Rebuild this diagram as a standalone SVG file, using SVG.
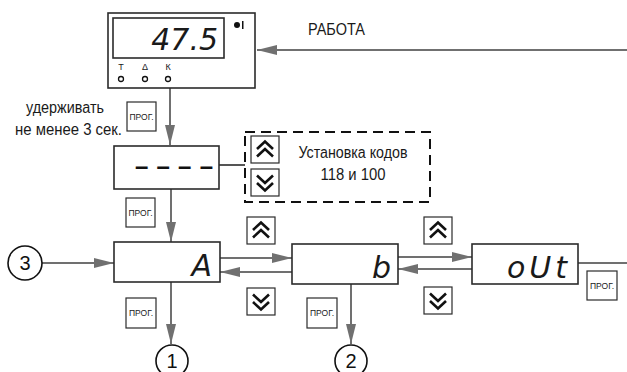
<svg xmlns="http://www.w3.org/2000/svg" width="627" height="372" viewBox="0 0 627 372">
<style>
.box{fill:#fff;stroke:#2b2b2b;stroke-width:1.6}
.btn{fill:#fff;stroke:#2b2b2b;stroke-width:1.2}
.con{fill:none;stroke:#707070;stroke-width:2}
.lbl{font-family:"Liberation Sans",Arial,sans-serif;fill:#1a1a1a}
.seg{font-family:"DejaVu Sans","Liberation Sans",sans-serif;font-style:italic;font-weight:200;fill:#1a1a1a}
.prog{font-family:"Liberation Sans",Arial,sans-serif;font-size:8.5px;fill:#1a1a1a}
.chev{fill:none;stroke:#111;stroke-width:2.6;stroke-linejoin:miter}
.circ{fill:#fff;stroke:#111;stroke-width:1.6}
.num{font-family:"Liberation Sans",Arial,sans-serif;font-size:20px;fill:#111;text-anchor:middle}
</style>
<defs>
<marker id="ah" viewBox="0 0 20 10" refX="20" refY="5" markerWidth="20" markerHeight="10" markerUnits="userSpaceOnUse" orient="auto">
<path d="M0,0 L20,5 L0,10 Z" fill="#707070"/>
</marker>
<g id="up">
<rect class="btn" x="0" y="0" width="28" height="27"/>
<path class="chev" d="M6,13 L14,5.5 L22,13 M6,20.5 L14,13 L22,20.5"/>
</g>
<g id="down">
<rect class="btn" x="0" y="0" width="28" height="27"/>
<path class="chev" d="M6,6.5 L14,14 L22,6.5 M6,14 L14,21.5 L22,14"/>
</g>
</defs>

<g id="connectors">
<line class="con" x1="627" y1="50" x2="257" y2="50" marker-end="url(#ah)"/>
<line class="con" x1="170" y1="88" x2="170" y2="145" marker-end="url(#ah)"/>
<line x1="219" y1="165" x2="245" y2="165" stroke="#2b2b2b" stroke-width="1.6"/>
<line class="con" x1="171" y1="189" x2="171" y2="242" marker-end="url(#ah)"/>
<line class="con" x1="42" y1="263" x2="114" y2="263" marker-end="url(#ah)"/>
<line class="con" x1="220" y1="258" x2="292" y2="258" marker-end="url(#ah)"/>
<line class="con" x1="292" y1="272" x2="220" y2="272" marker-end="url(#ah)"/>
<line class="con" x1="171" y1="282" x2="171" y2="344" marker-end="url(#ah)"/>
<line class="con" x1="398" y1="257" x2="472" y2="257" marker-end="url(#ah)"/>
<line class="con" x1="472" y1="269" x2="398" y2="269" marker-end="url(#ah)"/>
<line class="con" x1="351" y1="284" x2="351" y2="344" marker-end="url(#ah)"/>
<line class="con" x1="578" y1="263" x2="627" y2="263"/>
</g>

<g id="device">
<rect class="box" x="108" y="13" width="147" height="75" stroke-width="2"/>
<rect class="box" x="113" y="18" width="111" height="40"/>
<text class="seg" x="218" y="50" font-size="30" text-anchor="end">47.5</text>
<circle cx="237" cy="25" r="3" fill="#111"/>
<rect x="242" y="21" width="1.5" height="8" fill="#111"/>
<text class="lbl" x="121" y="70" font-size="9" text-anchor="middle">Т</text>
<text class="lbl" x="145" y="70" font-size="9" text-anchor="middle">Δ</text>
<text class="lbl" x="168" y="70" font-size="9" text-anchor="middle">К</text>
<circle cx="121" cy="79" r="2.5" fill="none" stroke="#111" stroke-width="1.3"/>
<circle cx="145" cy="79" r="2.5" fill="none" stroke="#111" stroke-width="1.3"/>
<circle cx="168" cy="79" r="2.5" fill="none" stroke="#111" stroke-width="1.3"/>
</g>

<g id="label-rabota">
<text class="lbl" x="308" y="35" font-size="16" textLength="57" lengthAdjust="spacingAndGlyphs">РАБОТА</text>
</g>

<g id="hold-label">
<text class="lbl" x="65" y="113" font-size="16" text-anchor="middle" textLength="78" lengthAdjust="spacingAndGlyphs">удерживать</text>
<text class="lbl" x="15" y="135" font-size="16" textLength="107" lengthAdjust="spacingAndGlyphs">не менее 3 сек.</text>
</g>

<g id="prog1">
<rect class="btn" x="127" y="102" width="29" height="29"/>
<text class="prog" x="141.5" y="120" text-anchor="middle">ПРОГ.</text>
</g>

<g id="dash-box">
<rect class="box" x="114" y="146" width="105" height="43"/>
<text x="135" y="174" font-family="Liberation Sans,Arial,sans-serif" font-weight="bold" font-size="24" fill="#111" textLength="78" lengthAdjust="spacing">––––</text>
</g>

<g id="code-group">
<rect x="245" y="132" width="185" height="70" fill="none" stroke="#111" stroke-width="2" stroke-dasharray="10,6"/>
<use href="#up" x="251" y="136"/>
<use href="#down" x="251" y="169"/>
<text class="lbl" x="353" y="158" font-size="16" text-anchor="middle" textLength="109" lengthAdjust="spacingAndGlyphs">Установка кодов</text>
<text class="lbl" x="353" y="180" font-size="16" text-anchor="middle" textLength="65" lengthAdjust="spacingAndGlyphs">118 и 100</text>
</g>

<g id="prog2">
<rect class="btn" x="126" y="198" width="29" height="29"/>
<text class="prog" x="140.5" y="216" text-anchor="middle">ПРОГ.</text>
</g>

<g id="node-A">
<rect class="box" x="114" y="242" width="106" height="40"/>
<text class="seg" x="212" y="276" font-size="30" text-anchor="end">A</text>
</g>

<g id="node-b">
<rect class="box" x="292" y="244" width="106" height="40"/>
<text class="seg" x="391" y="278" font-size="30" text-anchor="end">b</text>
</g>

<g id="node-oUt">
<rect class="box" x="472" y="244" width="106" height="40"/>
<text class="seg" x="571" y="278" font-size="30" text-anchor="end" letter-spacing="4">oUt</text>
</g>

<g id="btn-up-1"><use href="#up" x="247" y="217"/></g>
<g id="btn-down-1"><use href="#down" x="247" y="288"/></g>
<g id="btn-up-2"><use href="#up" x="424" y="217"/></g>
<g id="btn-down-2"><use href="#down" x="424" y="287"/></g>

<g id="prog3">
<rect class="btn" x="126" y="298" width="30" height="30"/>
<text class="prog" x="141" y="316" text-anchor="middle">ПРОГ.</text>
</g>
<g id="prog4">
<rect class="btn" x="307" y="298" width="30" height="30"/>
<text class="prog" x="322" y="316" text-anchor="middle">ПРОГ.</text>
</g>
<g id="prog5">
<rect class="btn" x="587" y="271" width="30" height="29"/>
<text class="prog" x="602" y="289" text-anchor="middle">ПРОГ.</text>
</g>

<g id="circle-3">
<circle class="circ" cx="25" cy="263" r="17"/>
<text class="num" x="25" y="270">3</text>
</g>
<g id="circle-1">
<circle class="circ" cx="172" cy="361" r="16"/>
<text class="num" x="172" y="368">1</text>
</g>
<g id="circle-2">
<circle class="circ" cx="351" cy="361" r="16"/>
<text class="num" x="351" y="368">2</text>
</g>
</svg>
